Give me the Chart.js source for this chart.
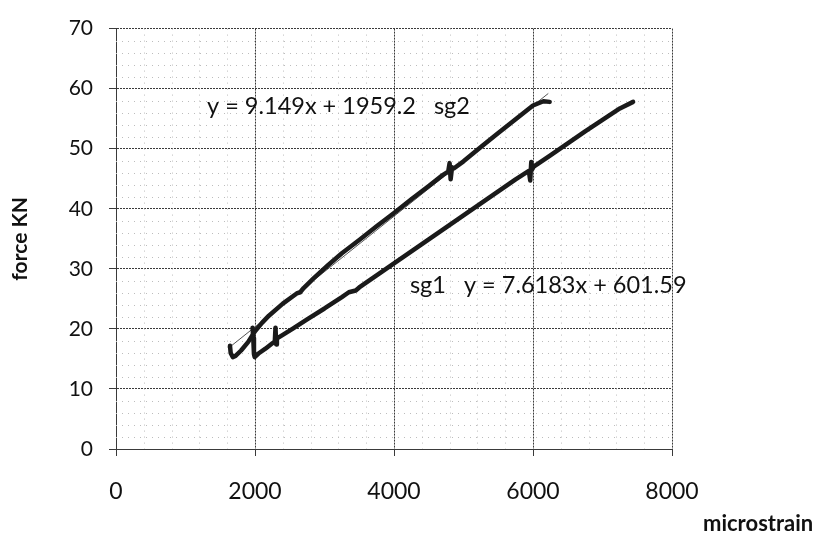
<!DOCTYPE html>
<html>
<head>
<meta charset="utf-8">
<script src="https://cdn.jsdelivr.net/npm/chart.js@4/dist/chart.umd.min.js"></script>
<style>
  html, body { margin: 0; padding: 0; background: #fff; }
  #wrap { width: 835px; height: 539px; }
</style>
</head>
<body>
<div id="wrap"><canvas id="c" width="835" height="539"></canvas></div>
<script>
// ---- data ----
const xTicks = [0, 2000, 4000, 6000, 8000];
const yTicks = [0, 10, 20, 30, 40, 50, 60, 70];

const sg2X = [1640,1650,1680,1720,1800,1900,2000,2100,2200,2400,2600,2650,2700,2850,3050,3250,3500,3750,4000,4250,4500,4700,4780,4800,4815,4835,4860,5000,5250,5500,5750,6000,6150,6240];
const sg2Y = [17.2,16.0,15.3,15.5,16.4,17.8,19.6,21.0,22.2,24.2,25.9,26.1,26.8,28.5,30.6,32.6,34.8,37.1,39.3,41.6,43.8,45.6,46.2,47.6,44.9,46.9,46.7,47.9,50.3,52.6,54.9,57.2,57.9,57.8];

const sg1X = [1965,1975,1985,1995,2050,2150,2250,2285,2295,2305,2315,2330,2400,2550,2750,3000,3250,3350,3450,3500,3750,4000,4250,4500,4750,5000,5250,5500,5750,5940,5960,5975,5990,6010,6250,6500,6750,7000,7250,7440];
const sg1Y = [20.2,18.5,15.8,15.3,15.9,16.7,17.6,17.9,20.2,17.4,18.6,18.5,19.0,20.1,21.6,23.4,25.3,26.1,26.4,26.9,28.9,30.9,32.9,34.9,36.9,38.9,40.9,42.9,44.9,46.3,44.7,47.8,46.6,47.0,48.9,50.9,52.9,54.8,56.7,57.8];

const sg2TrendX = [1640, 6220];
const sg2TrendY = [17.0, 59.2];

const sg2Label = 'y = 9.149x + 1959.2   sg2';
const sg1Label = 'sg1   y = 7.6183x + 601.59';
const xTitle = 'microstrain';
const yTitle = 'force KN';

const toPts = (xs, ys) => xs.map((x, i) => ({ x: x, y: ys[i] }));

// annotation anchors in data units
const notes = [
  { text: sg2Label, x: 1310, y: 57.0 },
  { text: sg1Label, x: 4230, y: 27.2 }
];

const FONT = 'Lato, "Open Sans", sans-serif';

const minorGrid = {
  id: 'minorGrid',
  beforeDatasetsDraw(chart) {
    const { ctx, chartArea: a, scales: { x, y } } = chart;
    ctx.save();
    ctx.strokeStyle = '#bdbdbd';
    ctx.lineWidth = 1;
    ctx.setLineDash([1, 5]);
    for (let v = 400; v < 8000; v += 400) {
      if (v % 2000 === 0) continue;
      const px = Math.round(x.getPixelForValue(v)) + 0.5;
      ctx.beginPath(); ctx.moveTo(px, a.top); ctx.lineTo(px, a.bottom); ctx.stroke();
    }
    for (let v = 2; v < 70; v += 2) {
      if (v % 10 === 0) continue;
      const py = Math.round(y.getPixelForValue(v)) + 0.5;
      ctx.beginPath(); ctx.moveTo(a.left, py); ctx.lineTo(a.right, py); ctx.stroke();
    }
    ctx.restore();
  }
};

const textPlugin = {
  id: 'texts',
  afterDraw(chart) {
    const { ctx, scales: { x, y } } = chart;
    ctx.save();
    ctx.fillStyle = '#111';
    ctx.textBaseline = 'middle';
    ctx.textAlign = 'left';
    ctx.font = '23.5px ' + FONT;
    notes.forEach(n => {
      ctx.fillText(n.text, x.getPixelForValue(n.x), y.getPixelForValue(n.y));
    });
    ctx.font = 'bold 22px ' + FONT;
    ctx.fillText(xTitle, 703, 524);
    ctx.restore();
  }
};

const lineStyle = { showLine: true, borderColor: '#1a1a1a', borderWidth: 4.5, pointRadius: 0, tension: 0, borderJoinStyle: 'round', borderCapStyle: 'round' };

new Chart(document.getElementById('c'), {
  type: 'scatter',
  data: {
    datasets: [
      { label: 'sg2 trend', data: toPts(sg2TrendX, sg2TrendY), showLine: true, borderColor: '#555', borderWidth: 1, pointRadius: 0, order: 3 },
      Object.assign({ label: 'sg2', data: toPts(sg2X, sg2Y), order: 1 }, lineStyle),
      Object.assign({ label: 'sg1', data: toPts(sg1X, sg1Y), order: 1 }, lineStyle)
    ]
  },
  options: {
    responsive: false,
    animation: false,
    layout: { padding: { left: 0, top: 22, right: 163, bottom: 0 } },
    plugins: { legend: { display: false }, tooltip: { enabled: false } },
    scales: {
      x: {
        type: 'linear', min: 0, max: 8000,
        afterBuildTicks: s => { s.ticks = xTicks.map(v => ({ value: v })); },
        afterFit: s => { s.height = 90; },
        ticks: { color: '#111', font: { family: FONT, size: 23 }, padding: 22, maxRotation: 0, callback: v => String(v) },
        grid: { color: '#3a3a3a', lineWidth: 1, tickLength: 7, tickColor: '#3a3a3a' },
        border: { display: true, color: '#3a3a3a', dash: [2, 1] }
      },
      y: {
        type: 'linear', min: 0, max: 70,
        afterBuildTicks: s => { s.ticks = yTicks.map(v => ({ value: v })); },
        afterFit: s => { s.width = 116; },
        ticks: { color: '#111', font: { family: FONT, size: 21 }, padding: 16, callback: v => String(v) },
        grid: { color: '#3a3a3a', lineWidth: 1, tickLength: 7, tickColor: '#3a3a3a' },
        border: { display: true, color: '#3a3a3a', dash: [2, 1] },
        title: { display: true, text: yTitle, color: '#111', font: { family: FONT, size: 21, weight: 'bold' }, padding: { top: 8, bottom: 0 } }
      }
    }
  },
  plugins: [minorGrid, textPlugin]
});
</script>
</body>
</html>
